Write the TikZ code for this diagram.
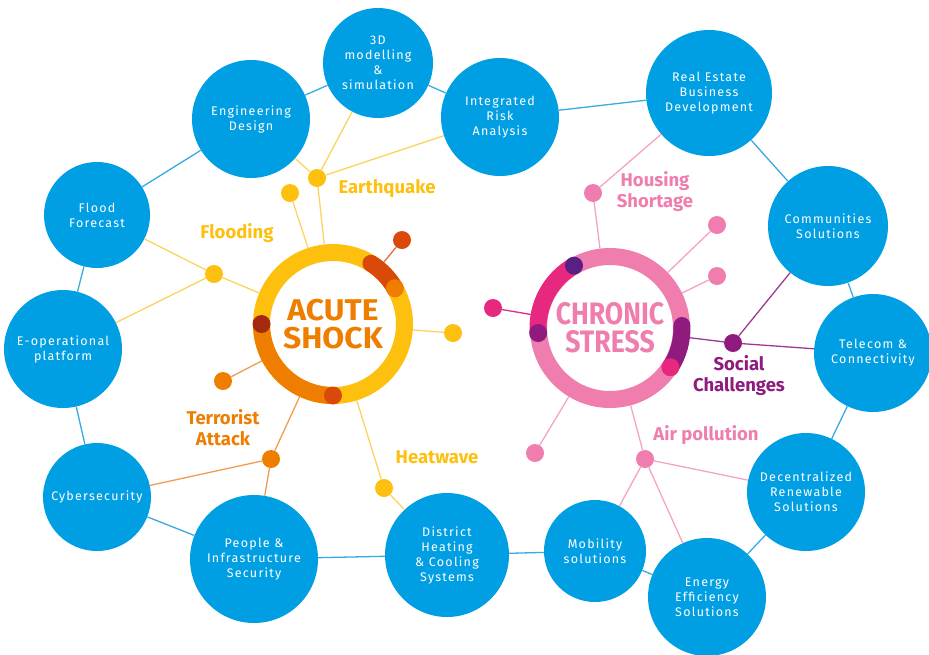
\documentclass[tikz,border=0pt]{standalone}
\usepackage{fontspec}
\setmainfont{Fira Sans}
\newfontfamily\circfont[LetterSpace=10]{Fira Sans}
\newfontfamily\centerfont[FakeStretch=0.86]{Fira Sans}
\newfontfamily\acutefont[FakeStretch=1.06]{Fira Sans}
\definecolor{cblue}{HTML}{009FE3}
\definecolor{cblueline}{HTML}{38A9E1}
\definecolor{cyellow}{HTML}{FDC00F}
\definecolor{cyellowline}{HTML}{FDD35F}
\definecolor{corange}{HTML}{EE7D00}
\definecolor{corangeline}{HTML}{F29B52}
\definecolor{cdarkorange}{HTML}{D94A0A}
\definecolor{cdarkred}{HTML}{A3290F}
\definecolor{cpink}{HTML}{EF7EAE}
\definecolor{cpinkline}{HTML}{F4A3C6}
\definecolor{cmagenta}{HTML}{E6287F}
\definecolor{cpurple}{HTML}{8F1B7E}
\definecolor{cpurpleline}{HTML}{9C3A91}
\definecolor{cindigo}{HTML}{5A1F82}
\begin{document}
\begin{tikzpicture}[x=1pt,y=-1pt,
  bub/.style={circle,fill=cblue,text=white,align=center,inner sep=0pt,minimum size=#1,
    font=\circfont\fontsize{12.5}{15}\selectfont},
  dot/.style={circle,fill=#1,inner sep=0pt,minimum size=18pt},
  ring/.style={circle,draw=#1,line width=17pt,minimum size=143pt,inner sep=0pt,align=center},
  lab/.style={align=center,font=\bfseries\fontsize{18.5}{21}\selectfont},
  bl/.style={draw=cblueline,line width=1.3pt},
  yl/.style={draw=cyellowline,line width=1.3pt},
  ol/.style={draw=corangeline,line width=1.3pt},
  pl/.style={draw=cpinkline,line width=1.3pt},
  ul/.style={draw=cpurpleline,line width=1.3pt},
  seg/.style={draw=#1,line width=17pt}
]
\useasboundingbox (0,0) rectangle (929,654);

% blue circles
\node[bub=110pt] (d3)  at (378,63)  {3D\\modelling\\\&\\simulation};
\node[bub=118pt] (eng) at (251,119) {Engineering\\Design};
\node[bub=118pt] (ira) at (500,117) {Integrated\\Risk\\Analysis};
\node[bub=126pt] (red) at (709,93)  {Real Estate\\Business\\Development};
\node[bub=120pt] (com) at (828,226) {Communities\\Solutions};
\node[bub=118pt] (tel) at (873,353) {Telecom \&\\Connectivity};
\node[bub=118pt] (dec) at (806,492) {Decentralized\\Renewable\\Solutions};
\node[bub=118pt] (ene) at (707,597) {Energy\\Efficiency\\Solutions};
\node[bub=102pt] (mob) at (595,551) {Mobility\\solutions};
\node[bub=124pt] (dhc) at (447,555) {District\\Heating\\\& Cooling\\Systems};
\node[bub=128pt] (pis) at (254,559) {People \&\\Infrastructure\\Security};
\node[bub=108pt] (cyb) at (97,497)  {Cybersecurity};
\node[bub=118pt] (eop) at (63,349)  {E-operational\\platform};
\node[bub=106pt] (ffc) at (97,215)  {Flood\\Forecast};

% outer ring of blue links
\draw[bl] (ffc) -- (eng);
\draw[bl] (eng) -- (d3);
\draw[bl] (d3) -- (ira);
\draw[bl] (ira) -- (red);
\draw[bl] (red) -- (com);
\draw[bl] (com) -- (tel);
\draw[bl] (tel) -- (dec);
\draw[bl] (dec) -- (ene);
\draw[bl] (ene) -- (mob);
\draw[bl] (mob) -- (dhc);
\draw[bl] (dhc) -- (pis);
\draw[bl] (pis) -- (cyb);
\draw[bl] (cyb) -- (eop);
\draw[bl] (eop) -- (ffc);

% ACUTE SHOCK ring
\node[ring=cyellow,text=corange,font=\acutefont\bfseries\fontsize{30}{28}\selectfont] (ac) at (333,324) {ACUTE\\SHOCK};
\draw[seg=corange] ([shift={(-180:71.5)}]ac.center) arc (-180:-270:71.5);
\draw[seg=cdarkorange,line cap=round] ([shift={(-58:71.5)}]ac.center) arc (-58:-30:71.5);
\node[dot=cdarkred] (ar1) at ([shift={(-180:71.5)}]ac.center) {};
\node[dot=cdarkorange] (ar2) at ([shift={(90:71.5)}]ac.center) {};
\node[dot=corange] (ar3) at ([shift={(-30:71.5)}]ac.center) {};

% CHRONIC STRESS ring
\node[ring=cpink,text=cpink,font=\centerfont\bfseries\fontsize{31}{28}\selectfont] (cs) at (610,328) {CHRONIC\\STRESS};
\draw[seg=cmagenta] ([shift={(-120:72)}]cs.center) arc (-120:-184:72);
\draw[seg=cpurple,line cap=round] ([shift={(-2:72)}]cs.center) arc (-2:33:72);
\node[dot=cindigo] (cr1) at ([shift={(-120:72)}]cs.center) {};
\node[dot=cpurple] (cr2) at ([shift={(-184:72)}]cs.center) {};
\node[dot=cmagenta] (cr3) at ([shift={(33:72)}]cs.center) {};

% acute dots
\node[dot=cyellow] (eqhub) at (317,178) {};
\node[dot=cyellow] (ytop) at (290,193) {};
\node[dot=cyellow] (flhub) at (214,274) {};
\node[dot=cyellow] (yright) at (453,333) {};
\node[dot=cdarkorange] (dodot) at (402,240) {};
\node[dot=corange] (oll) at (223,381) {};
\node[dot=corange] (tahub) at (271,459) {};
\node[dot=cyellow] (hwdot) at (384,488) {};

% chronic dots
\node[dot=cpink] (hshub) at (593,193) {};
\node[dot=cpink] (pd1) at (717,225) {};
\node[dot=cpink] (pd2) at (717,276) {};
\node[dot=cpurple] (schub) at (733,343) {};
\node[dot=cmagenta] (mdot) at (493,308) {};
\node[dot=cpink] (pll) at (535,453) {};
\node[dot=cpink] (aphub) at (645,459) {};

% acute links
\draw[yl] (eqhub) -- (ac);
\draw[yl] (eqhub) -- (eng);
\draw[yl] (eqhub) -- (d3);
\draw[yl] (eqhub) -- (ira);
\draw[yl] (ytop) -- (ac);
\draw[yl] (flhub) -- (ac);
\draw[yl] (flhub) -- (ffc);
\draw[yl] (flhub) -- (eop);
\draw[yl] (yright) -- (ac);
\draw[draw=cdarkorange!80,line width=1.3pt] (dodot) -- (ac);
\draw[ol] (oll) -- (ac);
\draw[ol] (tahub) -- (ac);
\draw[ol] (tahub) -- (cyb);
\draw[ol] (tahub) -- (pis);
\draw[yl] (hwdot) -- (ac);
\draw[yl] (hwdot) -- (dhc);

% chronic links
\draw[pl] (hshub) -- (cs);
\draw[pl] (hshub) -- (red);
\draw[pl] (pd1) -- (cs);
\draw[pl] (pd2) -- (cs);
\draw[ul] (schub) -- (cs);
\draw[ul] (schub) -- (com);
\draw[ul] (schub) -- (tel);
\draw[draw=cmagenta,line width=1.3pt] (mdot) -- (cs);
\draw[pl] (pll) -- (cs);
\draw[pl] (aphub) -- (cs);
\draw[pl] (aphub) -- (dec);
\draw[pl] (aphub) -- (mob);
\draw[pl] (aphub) -- (ene);

% labels
\node[lab,text=cyellow] (leq) at (387,189) {Earthquake};
\node[lab,text=cyellow] (lfl) at (237,233) {Flooding};
\node[lab,text=corange] (lta) at (223,428) {Terrorist\\Attack};
\node[lab,text=cyellow] (lhw) at (437,457) {Heatwave};
\node[lab,text=cpink] (lhs) at (655,192) {Housing\\Shortage};
\node[lab,text=cpurple] (lsc) at (739,376) {Social\\Challenges};
\node[lab,text=cpink] (lap) at (706,435) {Air pollution};
\end{tikzpicture}
\end{document}
